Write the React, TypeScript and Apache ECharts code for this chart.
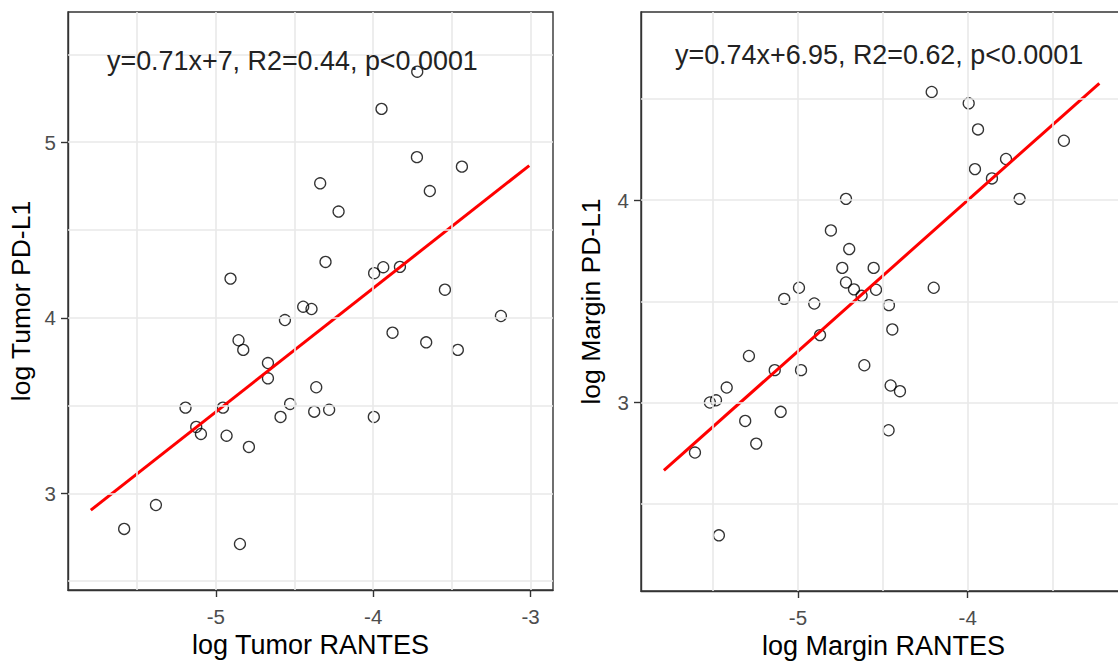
import { useEffect, useRef } from 'react';
import * as echarts from 'echarts';

// ---- Data ----
const leftX = [-3.720, -3.947, -3.722, -3.436, -4.337, -3.640, -4.220, -4.303, -3.994, -3.936, -3.830, -4.907, -3.544, -4.445, -4.392, -4.561, -3.188, -3.877, -3.663, -3.462, -4.856, -4.826, -4.669, -4.669, -4.362, -5.193, -4.955, -4.528, -4.589, -4.375, -4.280, -3.996, -5.125, -5.095, -4.932, -4.790, -5.381, -5.583, -4.847];
const leftY = [5.402, 5.190, 4.915, 4.861, 4.766, 4.722, 4.605, 4.318, 4.254, 4.288, 4.290, 4.223, 4.160, 4.063, 4.050, 3.987, 4.010, 3.915, 3.860, 3.817, 3.872, 3.817, 3.742, 3.655, 3.604, 3.488, 3.488, 3.509, 3.435, 3.465, 3.476, 3.435, 3.378, 3.338, 3.328, 3.264, 2.933, 2.797, 2.711];

const rightX = [-4.212, -3.994, -3.939, -3.433, -3.774, -3.957, -3.857, -3.694, -4.717, -4.806, -4.698, -4.739, -4.554, -4.717, -4.670, -4.540, -4.200, -4.994, -5.081, -4.904, -4.625, -4.464, -4.444, -4.870, -5.289, -5.137, -4.982, -4.609, -5.420, -4.454, -4.399, -5.519, -5.483, -5.102, -5.311, -4.466, -5.246, -5.607, -5.466];
const rightY = [4.534, 4.478, 4.349, 4.293, 4.203, 4.153, 4.107, 4.006, 4.006, 3.850, 3.758, 3.665, 3.665, 3.593, 3.559, 3.557, 3.567, 3.567, 3.512, 3.489, 3.527, 3.481, 3.361, 3.333, 3.230, 3.160, 3.160, 3.184, 3.074, 3.084, 3.056, 3.000, 3.011, 2.954, 2.909, 2.863, 2.797, 2.753, 2.344];

// regression line end points
const leftLineX = [-5.795, -3.008];
const leftLineY = [2.904, 4.867];
const rightLineX = [-5.790, -3.224];
const rightLineY = [2.665, 4.577];

// ticks / grid lines
const leftXTicks = [-5, -4, -3];
const leftXMinor = [-5.5, -4.5, -3.5];
const leftYTicks = [3, 4, 5];
const leftYMinor = [2.5, 3.5, 4.5, 5.5];
const rightXTicks = [-5, -4, -3];
const rightXMinor = [-5.5, -4.5, -3.5];
const rightYTicks = [3, 4];
const rightYMinor = [2.5, 3.5, 4.5];

const leftLabel = 'y=0.71x+7, R2=0.44, p<0.0001';
const rightLabel = 'y=0.74x+6.95, R2=0.62, p<0.0001';

const FONT = '"Liberation Sans", Arial, sans-serif';

export default function App() {
  const ref = useRef<HTMLDivElement>(null);

  useEffect(() => {
    const chart = echarts.init(ref.current!, null, { renderer: 'svg' });

    const xAxis = (gridIndex: number, min: number, max: number, ticks: number[], name: string) => ({
      type: 'value',
      gridIndex,
      min,
      max,
      name,
      nameLocation: 'middle',
      nameGap: 33,
      nameTextStyle: { fontFamily: FONT, fontSize: 27, color: '#000' },
      axisLine: { show: true, onZero: false, lineStyle: { color: '#333', width: 1.4 } },
      axisTick: { show: true, length: 7, customValues: ticks, lineStyle: { color: '#333', width: 1.4 } },
      axisLabel: { customValues: ticks, margin: 16, fontFamily: FONT, fontSize: 20.5, color: '#4d4d4d' },
      splitLine: { show: false },
    });
    const yAxis = (gridIndex: number, min: number, max: number, ticks: number[], name: string, gap: number) => ({
      type: 'value',
      gridIndex,
      min,
      max,
      name,
      nameLocation: 'middle',
      nameGap: gap,
      nameTextStyle: { fontFamily: FONT, fontSize: 26.5, color: '#000' },
      axisLine: { show: true, onZero: false, lineStyle: { color: '#333', width: 1.4 } },
      axisTick: { show: true, length: 7, customValues: ticks, lineStyle: { color: '#333', width: 1.4 } },
      axisLabel: { customValues: ticks, margin: 12, fontFamily: FONT, fontSize: 20.5, color: '#4d4d4d' },
      splitLine: { show: false },
    });

    const gridLines = (idx: number, xs: number[], ys: number[], width: number) => ({
      type: 'scatter',
      xAxisIndex: idx,
      yAxisIndex: idx,
      data: [],
      silent: true,
      z: 1,
      markLine: {
        silent: true,
        symbol: ['none', 'none'],
        label: { show: false },
        lineStyle: { color: '#e9e9e9', width, type: 'solid' },
        emphasis: { disabled: true },
        data: [...xs.map((v) => ({ xAxis: v })), ...ys.map((v) => ({ yAxis: v }))],
      },
    });

    const points = (idx: number, xs: number[], ys: number[]) => ({
      type: 'scatter',
      xAxisIndex: idx,
      yAxisIndex: idx,
      z: 3,
      symbol: 'circle',
      symbolSize: 11,
      itemStyle: { color: 'rgba(0,0,0,0)', borderColor: '#000', borderWidth: 1.3 },
      data: xs.map((x, i) => [x, ys[i]]),
    });

    const line = (idx: number, xs: number[], ys: number[]) => ({
      type: 'line',
      xAxisIndex: idx,
      yAxisIndex: idx,
      z: 4,
      symbol: 'none',
      lineStyle: { color: '#ff0000', width: 3 },
      data: xs.map((x, i) => [x, ys[i]]),
    });

    chart.setOption({
      animation: false,
      backgroundColor: '#fff',
      grid: [
        { left: 68, top: 12, width: 485, height: 578, show: true, borderColor: '#333', borderWidth: 1.4, backgroundColor: '#fff' },
        { left: 641, top: 12, width: 485, height: 579, show: true, borderColor: '#333', borderWidth: 1.4, backgroundColor: '#fff' },
      ],
      xAxis: [
        xAxis(0, -5.94, -2.857, leftXTicks, 'log Tumor RANTES'),
        xAxis(1, -5.925, -3.067, rightXTicks, 'log Margin RANTES'),
      ],
      yAxis: [
        yAxis(0, 2.449, 5.742, leftYTicks, 'log Tumor PD-L1', 34),
        yAxis(1, 2.069, 4.929, rightYTicks, 'log Margin PD-L1', 37),
      ],
      series: [
        gridLines(0, [...leftXTicks, ...leftXMinor], [...leftYTicks, ...leftYMinor], 1.6),
        gridLines(1, [...rightXTicks, ...rightXMinor], [...rightYTicks, ...rightYMinor], 1.6),
        points(0, leftX, leftY),
        points(1, rightX, rightY),
        line(0, leftLineX, leftLineY),
        line(1, rightLineX, rightLineY),
      ],
      graphic: [
        {
          type: 'text',
          x: 107,
          y: 60.5,
          z: 10,
          style: { text: leftLabel, fontFamily: FONT, fontSize: 26.9, fill: '#222', align: 'left', verticalAlign: 'middle' },
        },
        {
          type: 'text',
          x: 675,
          y: 54.5,
          z: 10,
          style: { text: rightLabel, fontFamily: FONT, fontSize: 26.9, fill: '#222', align: 'left', verticalAlign: 'middle' },
        },
      ],
    });

    return () => chart.dispose();
  }, []);

  return (
    <div style={{ position: 'absolute', left: 0, top: 0, width: 1118, height: 666, overflow: 'hidden', background: '#fff' }}>
      <div ref={ref} style={{ width: 1130, height: 666 }} />
    </div>
  );
}
